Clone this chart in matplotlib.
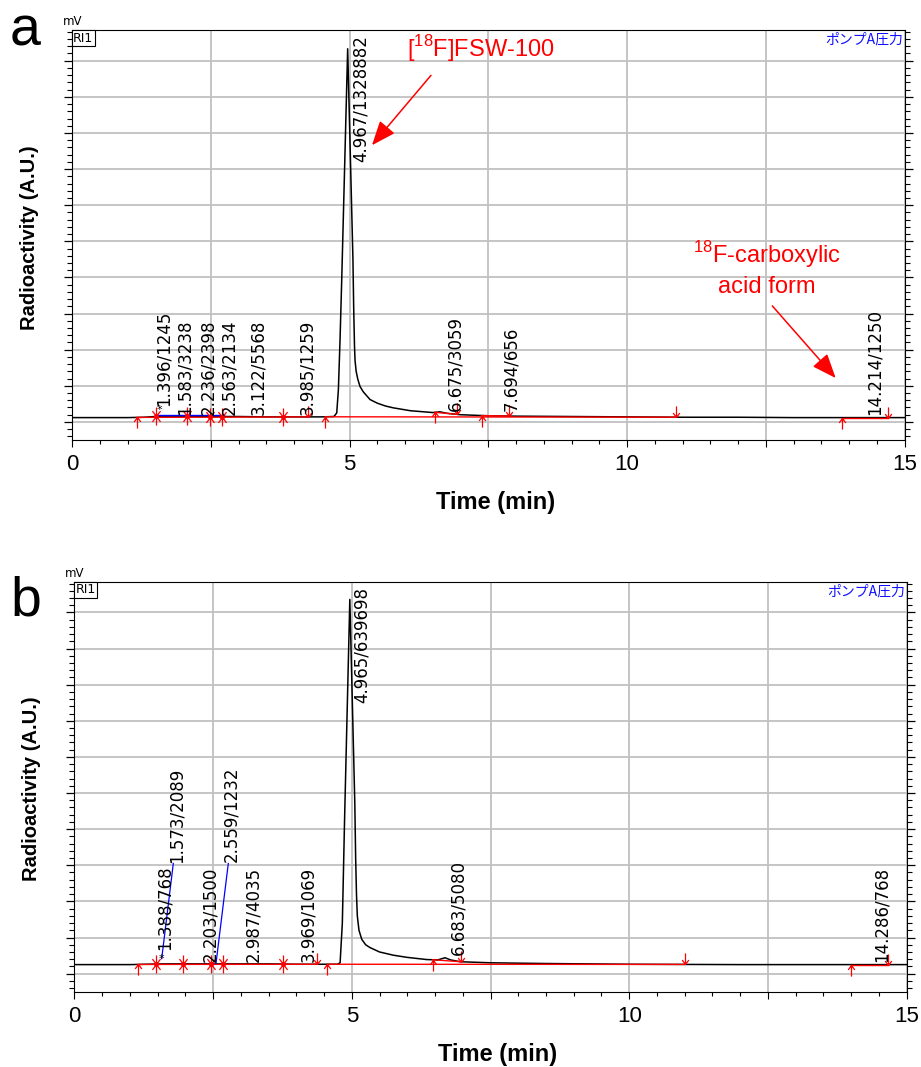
import numpy as np
import matplotlib
matplotlib.use("Agg")
import matplotlib.pyplot as plt
from matplotlib.path import Path
from matplotlib.ticker import FixedLocator, FixedFormatter, MultipleLocator

# ---------------- data ----------------
# panel a trace (time in min, signal in arbitrary grid units)
t_a = [0.0, 1.0, 1.3, 1.6, 2.0, 2.5, 3.0, 3.5, 4.0, 4.5, 4.72, 4.77, 4.80, 4.83,
       4.86, 4.967, 5.062, 5.075, 5.09, 5.10, 5.12, 5.15,
       5.19, 5.25, 5.37, 5.50, 5.65, 5.79, 6.10, 6.50, 6.63, 6.75, 7.00, 7.50,
       8.00, 9.00, 10.0, 11.0, 12.0, 13.0, 14.0, 15.0]
sig_a = [0.12, 0.12, 0.13, 0.16, 0.16, 0.15, 0.15, 0.14, 0.14, 0.14, 0.15, 0.25,
         0.90, 2.30, 3.94, 10.33, 4.50, 3.20, 2.10, 1.70,
         1.40, 1.18, 0.98, 0.83, 0.62, 0.52, 0.44, 0.39, 0.31, 0.26, 0.28, 0.24,
         0.20, 0.17, 0.16, 0.15, 0.14, 0.13, 0.13, 0.12, 0.12, 0.12]

# panel b trace
t_b = [0.0, 1.0, 1.3, 1.6, 2.0, 2.5, 3.0, 3.5, 4.0, 4.5, 4.74, 4.79, 4.83, 4.87,
       4.965, 5.055, 5.07, 5.085, 5.10, 5.13, 5.18, 5.25, 5.33, 5.50,
       5.75, 6.00, 6.35, 6.55, 6.68, 6.78, 6.95, 7.50, 8.50, 10.0, 12.0, 15.0]
sig_b = [0.25, 0.25, 0.26, 0.27, 0.27, 0.27, 0.27, 0.27, 0.26, 0.26, 0.26, 0.30,
         1.40, 4.24, 10.36, 4.70, 3.20, 2.20, 1.60, 1.20, 0.95, 0.80,
         0.72, 0.60, 0.51, 0.45, 0.39, 0.38, 0.44, 0.38, 0.33, 0.30, 0.28, 0.26,
         0.25, 0.25]

# peak labels (retention time / area)
labels_a = ["1.396/1245", "1.583/3238", "2.236/2398", "2.563/2134", "3.122/5568",
            "3.985/1259", "4.967/1328882", "6.675/3059", "7.694/656", "14.214/1250"]
labels_b = ["1.388/768", "1.573/2089", "2.203/1500", "2.559/1232", "2.987/4035",
            "3.969/1069", "4.965/639698", "6.683/5080", "14.286/768"]

# integration marks (min)
a_up = [1.165, 4.56, 6.54, 7.38, 13.88]
a_down = [4.26, 6.93, 7.88, 10.88, 14.71]
a_star = [1.51, 2.07, 2.49, 2.70, 3.81]
a_segments = [(1.165, 4.26), (4.56, 10.88), (6.54, 6.93), (7.38, 7.88), (13.88, 14.71)]

b_up = [1.142, 4.56, 6.457, 13.995]
b_down = [4.367, 6.967, 11.0, 14.655]
b_star = [1.47, 1.953, 2.463, 2.675, 3.755]
b_segments = [(1.142, 4.367), (4.56, 11.0), (6.457, 6.967), (13.995, 14.655)]

x_major = [0, 2.5, 5, 7.5, 10, 12.5, 15]
x_ticklabels = ["0", "", "5", "", "10", "", "15"]

# ---------------- layout (positions of labels, in data coords) ----------------
lab_a_x = [1.645, 2.036, 2.456, 2.83, 3.357, 4.229, 5.20, 6.90, 7.92, 14.47]
lab_a_y = [0.43, 0.20, 0.20, 0.20, 0.20, 0.20, 7.20, 0.29, 0.29, 0.20]
lab_b_x = [1.634, 1.845, 2.445, 2.836, 3.226, 4.216, 5.18, 6.92, 14.55]
lab_b_y = [0.65, 3.05, 0.32, 3.09, 0.32, 0.32, 7.48, 0.51, 0.32]

RED = "#ff0000"
W, H = 921, 1067

fig = plt.figure(figsize=(W / 100, H / 100), dpi=100)
ax_a = fig.add_axes([72 / W, 1 - 440 / H, 832.5 / W, 410 / H])
ax_b = fig.add_axes([74.3 / W, 1 - 991.7 / H, 832.4 / W, 410 / H])

# custom integration markers
up_path = Path([(0, 0), (0, -1), (-0.3, -0.4), (0, 0), (0.3, -0.4)],
               [Path.MOVETO, Path.LINETO, Path.MOVETO, Path.LINETO, Path.LINETO])
down_path = Path([(0, 0), (0, 1), (-0.3, 0.4), (0, 0), (0.3, 0.4)],
                 [Path.MOVETO, Path.LINETO, Path.MOVETO, Path.LINETO, Path.LINETO])
star_path = Path([(0, -1), (0, 1), (-0.45, -0.6), (0, 0), (0.45, -0.6),
                  (-0.45, 0.6), (0, 0), (0.45, 0.6)],
                 [Path.MOVETO, Path.LINETO, Path.MOVETO, Path.LINETO, Path.LINETO,
                  Path.MOVETO, Path.LINETO, Path.LINETO])


def style_axes(ax):
    ax.set_xlim(0, 15)
    ax.set_ylim(-0.5, 10.85)
    ax.xaxis.set_major_locator(FixedLocator(x_major))
    ax.xaxis.set_major_formatter(FixedFormatter(x_ticklabels))
    ax.xaxis.set_minor_locator(MultipleLocator(0.5))
    ax.yaxis.set_major_locator(MultipleLocator(1))
    ax.yaxis.set_minor_locator(MultipleLocator(0.2))
    ax.grid(True, which="major", color="#c0c0c0", lw=1.3)
    ax.set_axisbelow(True)
    ax.tick_params(axis="x", which="major", direction="out", length=5, width=0.8,
                   pad=5, labelsize=16, top=False)
    ax.tick_params(axis="x", which="minor", direction="out", length=3, width=0.8, top=False)
    ax.tick_params(axis="y", which="major", direction="out", length=6, width=0.9,
                   left=True, right=True, labelleft=False)
    ax.tick_params(axis="y", which="minor", direction="out", length=3.5, width=0.8,
                   left=True, right=True)
    for lab in ax.get_xticklabels():
        lab.set_family("Liberation Sans")
    for sp in ax.spines.values():
        sp.set_linewidth(0.8)
        sp.set_color("black")
    ax.set_xlabel("Time (min)", fontsize=17, fontweight="bold", family="Liberation Sans")
    ax.xaxis.set_label_coords(0.509, -0.125)
    ax.set_ylabel("Radioactivity (A.U.)", fontsize=14.5, fontweight="bold",
                  family="Liberation Sans")
    ax.yaxis.set_label_coords(-0.040, 0.494)
    ax.text(0.0015, 0.996, "RI1", transform=ax.transAxes, ha="left", va="top",
            fontsize=9, family="DejaVu Sans",
            bbox=dict(boxstyle="square,pad=0.12", fc="white", ec="black", lw=0.8))
    ax.text(0.998, 0.993, "ポンプA圧力", transform=ax.transAxes, ha="right", va="top",
            fontsize=10, color="#1010ff", family=["Noto Sans CJK JP", "DejaVu Sans"])
    ax.text(-0.011, 1.005, "mV", transform=ax.transAxes, ha="left", va="bottom",
            fontsize=8.5, family="DejaVu Sans")


def draw_panel(ax, t, s, up, down, star, segs, labels, lx, ly):
    style_axes(ax)
    ax.plot(t, s, color="black", lw=1.1, zorder=3)
    for x0, x1 in segs:
        ax.plot([x0, x1], [np.interp(x0, t, s), np.interp(x1, t, s)],
                color=RED, lw=1.0, zorder=4)
    ax.plot(up, np.interp(up, t, s), ls="none", marker=up_path, ms=16,
            mec=RED, mfc="none", mew=0.9, zorder=5)
    ax.plot(down, np.interp(down, t, s), ls="none", marker=down_path, ms=16,
            mec=RED, mfc="none", mew=0.9, zorder=5)
    ax.plot(star, np.interp(star, t, s), ls="none", marker=star_path, ms=13,
            mec=RED, mfc="none", mew=0.9, zorder=5)
    ax.plot(star, np.interp(star, t, s), ls="none", marker="o", ms=2.5,
            mec=RED, mfc=RED, zorder=5)
    for txt, x, y in zip(labels, lx, ly):
        ax.text(x, y, txt, rotation=90, ha="center", va="bottom", fontsize=12,
                family="DejaVu Sans", color="black", zorder=6)


draw_panel(ax_a, t_a, sig_a, a_up, a_down, a_star, a_segments, labels_a, lab_a_x, lab_a_y)
draw_panel(ax_b, t_b, sig_b, b_up, b_down, b_star, b_segments, labels_b, lab_b_x, lab_b_y)

# extra marks of panel a
ax_a.plot([1.53, 2.74], [0.19, 0.19], color="#0000ff", lw=1.0, zorder=4)
ax_a.text(1.573, 0.34, "*", ha="center", va="center", fontsize=8, zorder=6)

# leader lines of panel b
ax_b.plot([1.575, 1.784], [0.415, 3.05], color="#0000ff", lw=0.9, zorder=4)
ax_b.plot([2.553, 2.775], [0.277, 3.05], color="#0000ff", lw=0.9, zorder=4)
ax_b.text(1.575, 0.415, "*", ha="center", va="center", fontsize=8, zorder=6)

# annotations of panel a
sup = r"$^{\mathregular{18}}$"
ax_a.text(7.368, 10.1, "[" + sup + "F]FSW-100", ha="center", va="baseline",
          fontsize=17, color=RED, family="Liberation Sans")
ax_a.annotate("", xy=(5.405, 7.66), xytext=(6.468, 9.594),
              arrowprops=dict(arrowstyle="-|>,head_length=1.0,head_width=0.4",
                              color=RED, lw=1.1, mutation_scale=15,
                              shrinkA=0, shrinkB=0))
ax_a.text(12.52, 4.40, sup + "F-carboxylic", ha="center", va="baseline",
          fontsize=17, color=RED, family="Liberation Sans")
ax_a.text(12.52, 3.58, "acid form", ha="center", va="baseline",
          fontsize=17, color=RED, family="Liberation Sans")
ax_a.annotate("", xy=(13.76, 1.215), xytext=(12.618, 3.213),
              arrowprops=dict(arrowstyle="-|>,head_length=1.0,head_width=0.4",
                              color=RED, lw=1.1, mutation_scale=15,
                              shrinkA=0, shrinkB=0))

# panel letters
fig.text(10 / W, 1 - 45 / H, "a", fontsize=40, va="baseline", ha="left",
         family="Liberation Sans")
fig.text(10 / W, 1 - 615 / H, "b", fontsize=40, va="baseline", ha="left",
         family="Liberation Sans")

fig.savefig("out.png", dpi=100)
